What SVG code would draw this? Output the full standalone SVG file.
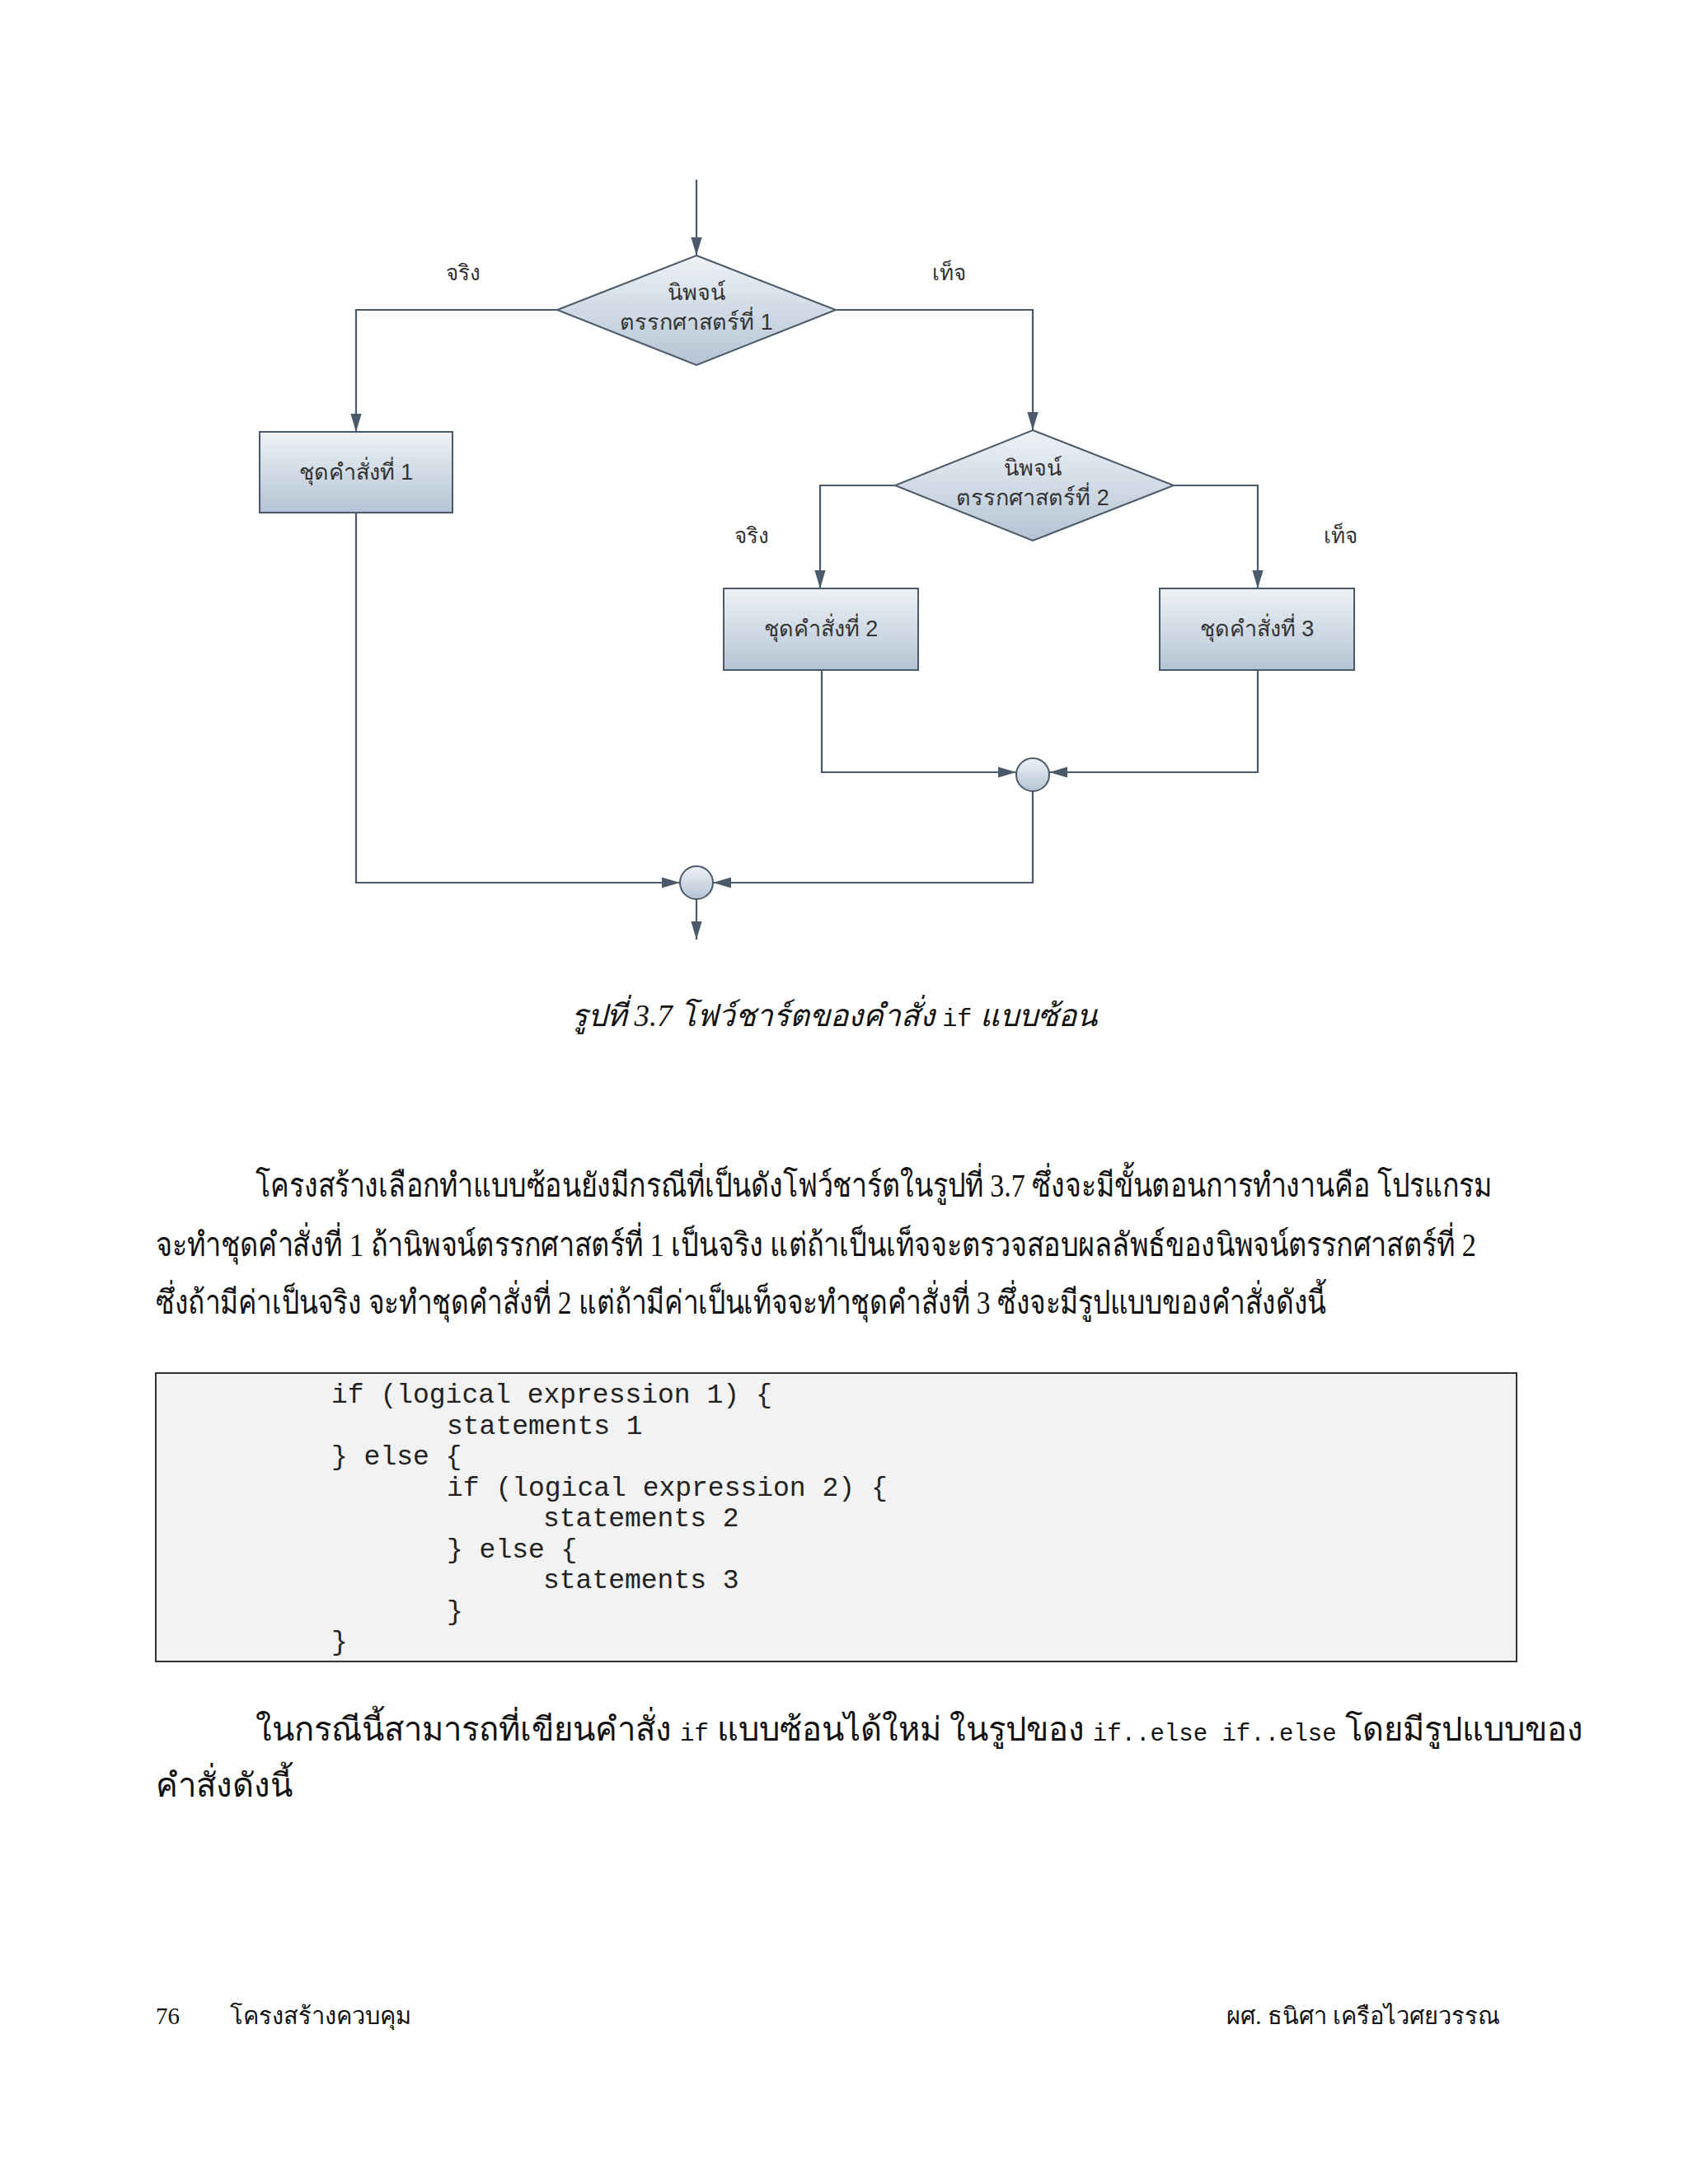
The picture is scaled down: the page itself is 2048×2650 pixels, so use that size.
<svg xmlns="http://www.w3.org/2000/svg" width="2048" height="2650" viewBox="0 0 2048 2650">
<style>
.ln{fill:none;stroke:#4a5a6a;stroke-width:2.2}
.nd{stroke:#4a5a6a;stroke-width:2}
.nt{font-family:"Liberation Sans","DejaVu Sans",sans-serif;font-size:27px;fill:#333;text-anchor:middle}
.lb{font-family:"Liberation Sans","DejaVu Sans",sans-serif;font-size:26px;fill:#333;text-anchor:middle}
.th{font-family:"Liberation Serif","DejaVu Serif",serif;font-size:40px;fill:#111}
.mono{font-family:"Liberation Mono",monospace;font-size:33px;fill:#222}
.ft{font-family:"Liberation Serif","DejaVu Serif",serif;font-size:29px;fill:#111}
</style>
<defs>
<linearGradient id="g" x1="0" y1="0" x2="0" y2="1"><stop offset="0" stop-color="#eef2f6"/><stop offset="1" stop-color="#b4c4d4"/></linearGradient>
<marker id="b" viewBox="0 0 20 12" refX="20" refY="6" markerWidth="22" markerHeight="14" markerUnits="userSpaceOnUse" orient="auto"><path d="M0,0 L20,6 L0,12 z" fill="#4a5a6a"/></marker>
</defs>
<rect width="2048" height="2650" fill="#fff"/>
<g id="connectors">
<path class="ln" d="M845,218 V310" marker-end="url(#b)"/>
<path class="ln" d="M676,376 H432 V524" marker-end="url(#b)"/>
<path class="ln" d="M1014,376 H1253 V522" marker-end="url(#b)"/>
<path class="ln" d="M1086,589 H995 V714" marker-end="url(#b)"/>
<path class="ln" d="M1424,589 H1526 V714" marker-end="url(#b)"/>
<path class="ln" d="M997,813 V937 H1233" marker-end="url(#b)"/>
<path class="ln" d="M1526,813 V937 H1273" marker-end="url(#b)"/>
<path class="ln" d="M1253,960 V1071 H865" marker-end="url(#b)"/>
<path class="ln" d="M432,622 V1071 H825" marker-end="url(#b)"/>
<path class="ln" d="M845,1091 V1140" marker-end="url(#b)"/>
</g>
<g id="labels">
<text class="lb" x="562" y="340">จริง</text>
<text class="lb" x="1151" y="340">เท็จ</text>
<text class="lb" x="912" y="659">จริง</text>
<text class="lb" x="1626" y="659">เท็จ</text>
</g>
<g id="dec1"><polygon class="nd" fill="url(#g)" points="845,310 1014,376 845,443 676,376"/><text class="nt" x="845" y="364">นิพจน์</text><text class="nt" x="845" y="400">ตรรกศาสตร์ที่ 1</text></g>
<g id="box1"><rect class="nd" fill="url(#g)" x="315" y="524" width="234" height="98"/><text class="nt" x="432" y="582">ชุดคำสั่งที่ 1</text></g>
<g id="dec2"><polygon class="nd" fill="url(#g)" points="1253,522 1424,589 1253,656 1086,589"/><text class="nt" x="1253" y="577">นิพจน์</text><text class="nt" x="1253" y="613">ตรรกศาสตร์ที่ 2</text></g>
<g id="box2"><rect class="nd" fill="url(#g)" x="878" y="714" width="236" height="99"/><text class="nt" x="996" y="772">ชุดคำสั่งที่ 2</text></g>
<g id="box3"><rect class="nd" fill="url(#g)" x="1407" y="714" width="236" height="99"/><text class="nt" x="1525" y="772">ชุดคำสั่งที่ 3</text></g>
<g id="join2"><circle class="nd" fill="url(#g)" cx="1253" cy="940" r="20"/></g>
<g id="join1"><circle class="nd" fill="url(#g)" cx="845" cy="1071" r="20"/></g>
<text x="1012" y="1245" text-anchor="middle" font-family="Liberation Serif,serif" font-size="37" font-style="italic" fill="#111">รูปที่ 3.7 โฟว์ชาร์ตของคำสั่ง <tspan font-family="Liberation Mono,monospace" font-style="normal" font-size="30">if</tspan> แบบซ้อน</text>
<text class="th" x="310" y="1452" textLength="1500" lengthAdjust="spacingAndGlyphs">โครงสร้างเลือกทำแบบซ้อนยังมีกรณีที่เป็นดังโฟว์ชาร์ตในรูปที่ 3.7 ซึ่งจะมีขั้นตอนการทำงานคือ โปรแกรม</text>
<text class="th" x="189" y="1524" textLength="1602" lengthAdjust="spacingAndGlyphs">จะทำชุดคำสั่งที่ 1 ถ้านิพจน์ตรรกศาสตร์ที่ 1 เป็นจริง แต่ถ้าเป็นเท็จจะตรวจสอบผลลัพธ์ของนิพจน์ตรรกศาสตร์ที่ 2</text>
<text class="th" x="189" y="1594" textLength="1420" lengthAdjust="spacingAndGlyphs">ซึ่งถ้ามีค่าเป็นจริง จะทำชุดคำสั่งที่ 2 แต่ถ้ามีค่าเป็นเท็จจะทำชุดคำสั่งที่ 3 ซึ่งจะมีรูปแบบของคำสั่งดังนี้</text>
<rect x="189" y="1666" width="1651" height="350" fill="#f2f2f3" stroke="#333" stroke-width="2"/>
<text class="mono" x="402" y="1702">if (logical expression 1) {</text>
<text class="mono" x="542" y="1740">statements 1</text>
<text class="mono" x="402" y="1777">} else {</text>
<text class="mono" x="542" y="1815">if (logical expression 2) {</text>
<text class="mono" x="659" y="1852">statements 2</text>
<text class="mono" x="542" y="1890">} else {</text>
<text class="mono" x="659" y="1927">statements 3</text>
<text class="mono" x="542" y="1965">}</text>
<text class="mono" x="402" y="2002">}</text>
<text class="th" x="310" y="2112" font-size="34">ในกรณีนี้สามารถที่เขียนคำสั่ง <tspan font-family="Liberation Mono,monospace" font-size="29">if</tspan> แบบซ้อนได้ใหม่ ในรูปของ <tspan font-family="Liberation Mono,monospace" font-size="29">if..else if..else</tspan> โดยมีรูปแบบของ</text>
<text class="th" x="189" y="2180" font-size="34">คำสั่งดังนี้</text>
<text class="ft" x="189" y="2456" font-size="36">76</text>
<text class="ft" x="279" y="2456">โครงสร้างควบคุม</text>
<text class="ft" x="1820" y="2456" text-anchor="end">ผศ. ธนิศา เครือไวศยวรรณ</text>
</svg>
